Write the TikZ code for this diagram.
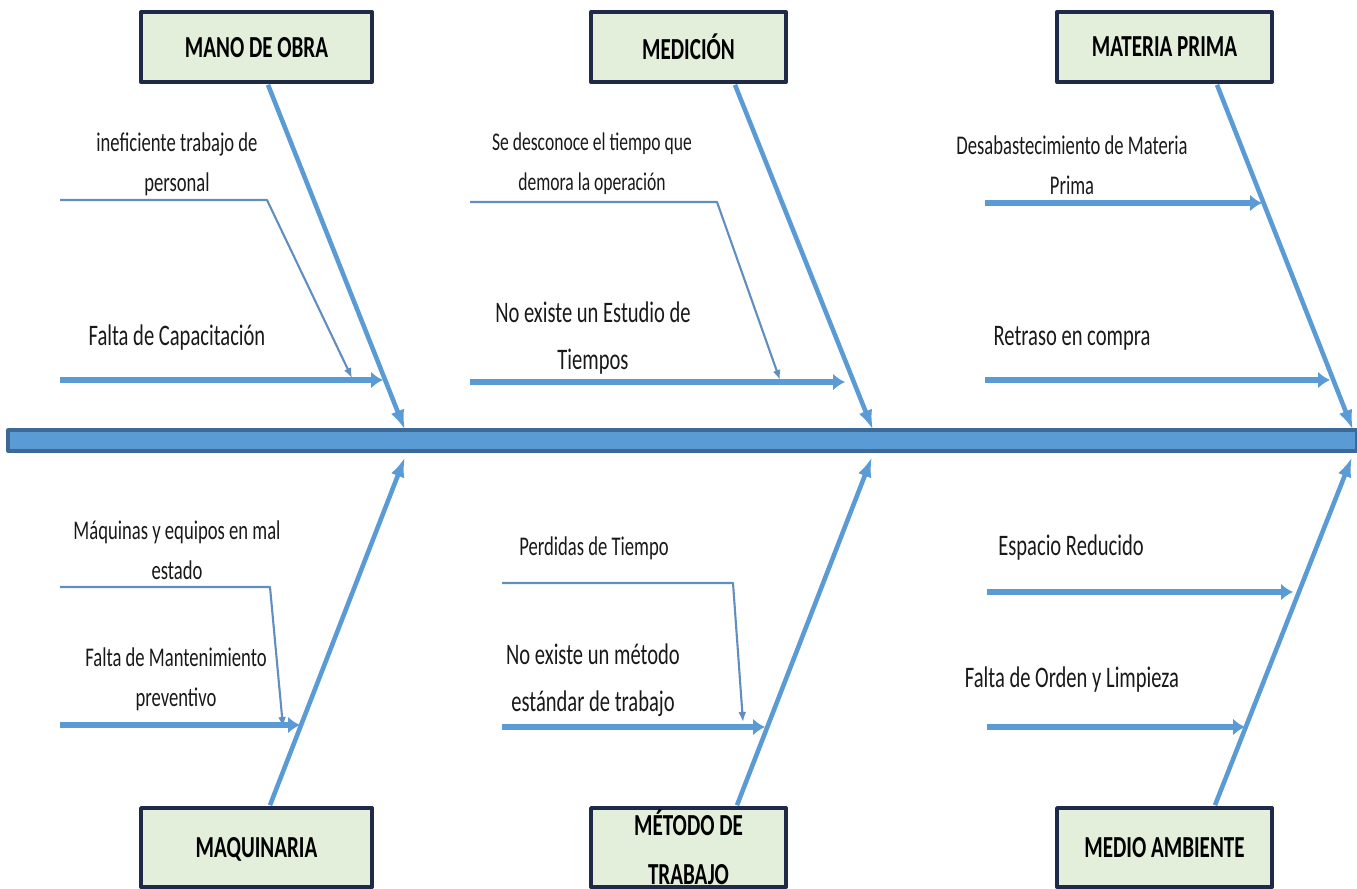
\documentclass[tikz,border=0pt]{standalone}
\usepackage{fontspec}
\setmainfont{Carlito}
\usetikzlibrary{arrows.meta}
\definecolor{hueso}{RGB}{91,155,213}
\definecolor{huesoborde}{RGB}{60,105,150}
\definecolor{hilo}{RGB}{96,142,190}
\definecolor{cajafondo}{RGB}{227,239,218}
\definecolor{cajaborde}{RGB}{30,42,72}
\tikzset{>=latex,
  espina/.style={fill=hueso, draw=huesoborde, line width=0.9pt},
  categoria/.style={draw=cajaborde, line width=1.1pt, fill=cajafondo, inner sep=0pt,
    align=center, yscale=1.45, transform shape, text depth=0pt,
    font=\bfseries\fontsize{6}{9.6}\selectfont},
  causa grande/.style={align=center, inner sep=0pt, yscale=1.45, transform shape,
    text=black!90, font=\fontsize{5.85}{9.2}\selectfont},
  causa chica/.style={align=center, inner sep=0pt, yscale=1.45, transform shape,
    text=black!90, font=\fontsize{5.3}{7.8}\selectfont},
  bone/.style={draw=hueso, line width=1.3pt, -{Latex[length=2mm,width=1.4mm]}},
  causa/.style={draw=hueso, line width=1.6pt, -{Latex[length=1.2mm,width=1.7mm]}},
  subcausa/.style={draw=hilo, line width=0.6pt, -{Latex[length=1mm,width=0.8mm]}}
}
\begin{document}
\begin{tikzpicture}[line join = round]
    \useasboundingbox (0,0) rectangle (13.57,8.88);
    % espina central
    \draw[espina] (0.08,4.37) rectangle (13.57,4.58);
    \coordinate (e1) at (4.05,4.58);
    \coordinate (e2) at (8.73,4.58);
    \coordinate (e3) at (13.53,4.58);
    \coordinate (e4) at (4.05,4.31);
    \coordinate (e5) at (8.72,4.31);
    \coordinate (e6) at (13.52,4.31);

    % categorias
    \node[categoria, minimum width=2.31cm, minimum height=0.483cm] (mo) at (2.565,8.41) {MANO DE OBRA};
    \node[categoria, minimum width=1.95cm, minimum height=0.483cm] (med) at (6.885,8.41) {MEDICIÓN};
    \node[categoria, minimum width=2.15cm, minimum height=0.483cm] (mp) at (11.645,8.41) {MATERIA PRIMA};
    \node[categoria, minimum width=2.31cm, minimum height=0.545cm] (maq) at (2.565,0.405) {MAQUINARIA};
    \node[categoria, minimum width=1.95cm, minimum height=0.545cm] (met) at (6.885,0.405) {MÉTODO DE\\TRABAJO};
    \node[categoria, minimum width=2.15cm, minimum height=0.545cm] (ma) at (11.645,0.405) {MEDIO AMBIENTE};

    \draw[bone] ([xshift=1.15mm]mo.south) -- (e1);
    \draw[bone] ([xshift=4.65mm]med.south) -- (e2);
    \draw[bone] ([xshift=5.25mm]mp.south) -- (e3);
    \draw[bone] ([xshift=1.35mm]maq.north) -- (e4);
    \draw[bone] ([xshift=4.85mm]met.north) -- (e5);
    \draw[bone] ([xshift=5.05mm]ma.north) -- (e6);

    % mano de obra
    \node[causa chica] (c1) at (1.77,7.24) {ineficiente trabajo de\\personal};
    \node[causa grande] (c2) at (1.77,5.50) {Falta de Capacitación};
    \coordinate (c1a) at (0.60,6.88); \coordinate (c1b) at (2.67,6.88); \coordinate (c1c) at (3.52,5.10);
    \coordinate (c2a) at (0.60,5.08); \coordinate (c2b) at (3.83,5.08);
    \draw[subcausa] (c1a) -- (c1b) -- (c1c);
    \draw[causa] (c2a) -- (c2b);

    % medicion
    \node[causa chica, font=\fontsize{5.0}{7.8}\selectfont] (c3) at (5.92,7.24) {Se desconoce el tiempo que\\demora la operación};
    \node[causa grande] (c4) at (5.93,5.50) {No existe un Estudio de\\Tiempos};
    \coordinate (c3a) at (4.70,6.86); \coordinate (c3b) at (7.17,6.86); \coordinate (c3c) at (7.80,5.08);
    \coordinate (c4a) at (4.70,5.06); \coordinate (c4b) at (8.45,5.06);
    \draw[subcausa] (c3a) -- (c3b) -- (c3c);
    \draw[causa] (c4a) -- (c4b);

    % materia prima
    \node[causa chica] (c5) at (10.72,7.23) {Desabastecimiento de Materia\\Prima};
    \node[causa grande] (c6) at (10.72,5.50) {Retraso en compra};
    \coordinate (c5a) at (9.85,6.85); \coordinate (c5b) at (12.62,6.85);
    \coordinate (c6a) at (9.85,5.08); \coordinate (c6b) at (13.30,5.08);
    \draw[causa] (c5a) -- (c5b);
    \draw[causa] (c6a) -- (c6b);

    % maquinaria
    \node[causa chica] (c7) at (1.77,3.38) {Máquinas y equipos en mal\\estado};
    \node[causa chica] (c8) at (1.76,2.09) {Falta de Mantenimiento\\preventivo};
    \coordinate (c7a) at (0.60,3.01); \coordinate (c7b) at (2.70,3.01); \coordinate (c7c) at (2.83,1.61);
    \coordinate (c8a) at (0.60,1.63); \coordinate (c8b) at (3.00,1.63);
    \draw[subcausa] (c7a) -- (c7b) -- (c7c);
    \draw[causa] (c8a) -- (c8b);

    % metodo de trabajo
    \node[causa chica] (c9) at (5.94,3.40) {Perdidas de Tiempo};
    \node[causa grande] (c10) at (5.93,2.08) {No existe un método\\estándar de trabajo};
    \coordinate (c9a) at (5.02,3.05); \coordinate (c9b) at (7.33,3.05); \coordinate (c9c) at (7.43,1.66);
    \coordinate (c10a) at (5.02,1.61); \coordinate (c10b) at (7.65,1.61);
    \draw[subcausa] (c9a) -- (c9b) -- (c9c);
    \draw[causa] (c10a) -- (c10b);

    % medio ambiente
    \node[causa grande] (c11) at (10.71,3.40) {Espacio Reducido};
    \node[causa grande] (c12) at (10.72,2.08) {Falta de Orden y Limpieza};
    \coordinate (c11a) at (9.87,2.96); \coordinate (c11b) at (12.93,2.96);
    \coordinate (c12a) at (9.87,1.61); \coordinate (c12b) at (12.45,1.61);
    \draw[causa] (c11a) -- (c11b);
    \draw[causa] (c12a) -- (c12b);
\end{tikzpicture}
\end{document}
